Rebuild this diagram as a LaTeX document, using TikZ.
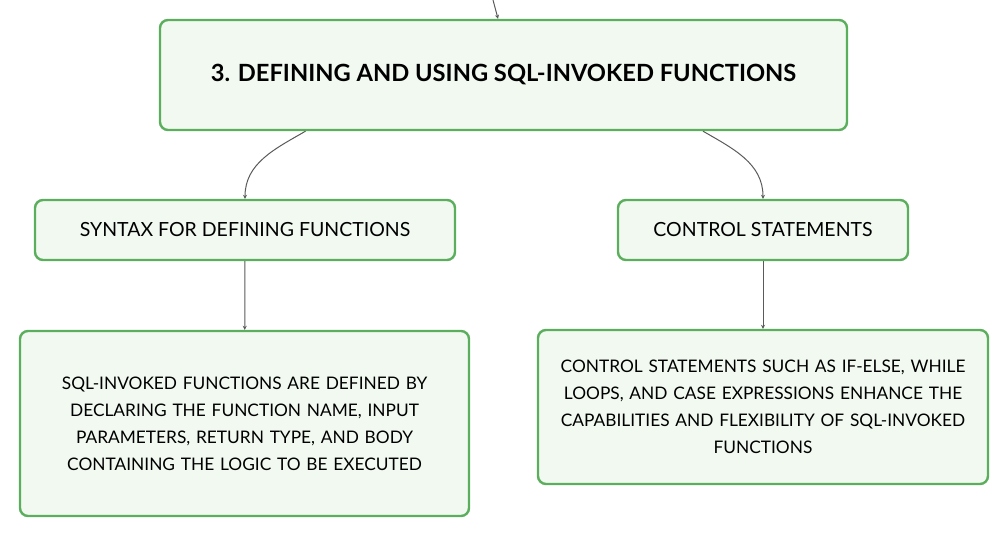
\documentclass[tikz,border=0pt]{standalone}
\usepackage{fontspec}
\setmainfont{Lato}
\usetikzlibrary{arrows.meta}
\definecolor{boxgreen}{HTML}{5AAE5C}
\definecolor{boxfill}{HTML}{F1F9F1}
\definecolor{linegray}{HTML}{5A5A5A}
\begin{document}
\begin{tikzpicture}[x=1pt,y=-1pt,
		box/.style={draw=boxgreen, line width=2.4pt, fill=boxfill, rounded corners=8pt, align=center, inner sep=0pt},
		conn/.style={draw=linegray, line width=1pt, -{Stealth[length=4pt,width=4pt]}}]
		\useasboundingbox (0,0) rectangle (1008,537);
		\node[box, minimum width=687pt, minimum height=110pt, font=\fontsize{23.7}{28}\selectfont\bfseries] (title) at (503.5,75) {3. DEFINING AND USING SQL-INVOKED FUNCTIONS};
		\node[box, minimum width=420pt, minimum height=60pt, font=\fontsize{19.5}{23}\selectfont] (syntax) at (245,230) {SYNTAX FOR DEFINING FUNCTIONS};
		\node[box, minimum width=290pt, minimum height=60pt, font=\fontsize{19.5}{23}\selectfont] (control) at (763,230) {CONTROL STATEMENTS};
		\node[box, minimum width=449pt, minimum height=185pt, text width=430pt, font=\fontsize{17.3}{27}\selectfont] (syntaxtxt) at (244.5,423.5) {SQL-INVOKED FUNCTIONS ARE DEFINED BY\\ DECLARING THE FUNCTION NAME, INPUT\\ PARAMETERS, RETURN TYPE, AND BODY\\ CONTAINING THE LOGIC TO BE EXECUTED};
		\node[box, minimum width=450pt, minimum height=154pt, text width=440pt, font=\fontsize{17.3}{27}\selectfont] (controltxt) at (763,407) {CONTROL STATEMENTS SUCH AS IF-ELSE, WHILE\\ LOOPS, AND CASE EXPRESSIONS ENHANCE THE\\ CAPABILITIES AND FLEXIBILITY OF SQL-INVOKED\\ FUNCTIONS};
		\coordinate (parent) at (493,0);
		\draw[conn] (parent) -- ([xshift=-5.5pt]title.north);
		\draw[conn] ([xshift=-198pt]title.south) to[out=-150,in=90] (syntax.north);
		\draw[conn] ([xshift=199.5pt]title.south) to[out=-30,in=90] (control.north);
		\draw[conn] (syntax) -- (syntaxtxt);
		\draw[conn] (control) -- (controltxt);
\end{tikzpicture}
\end{document}
